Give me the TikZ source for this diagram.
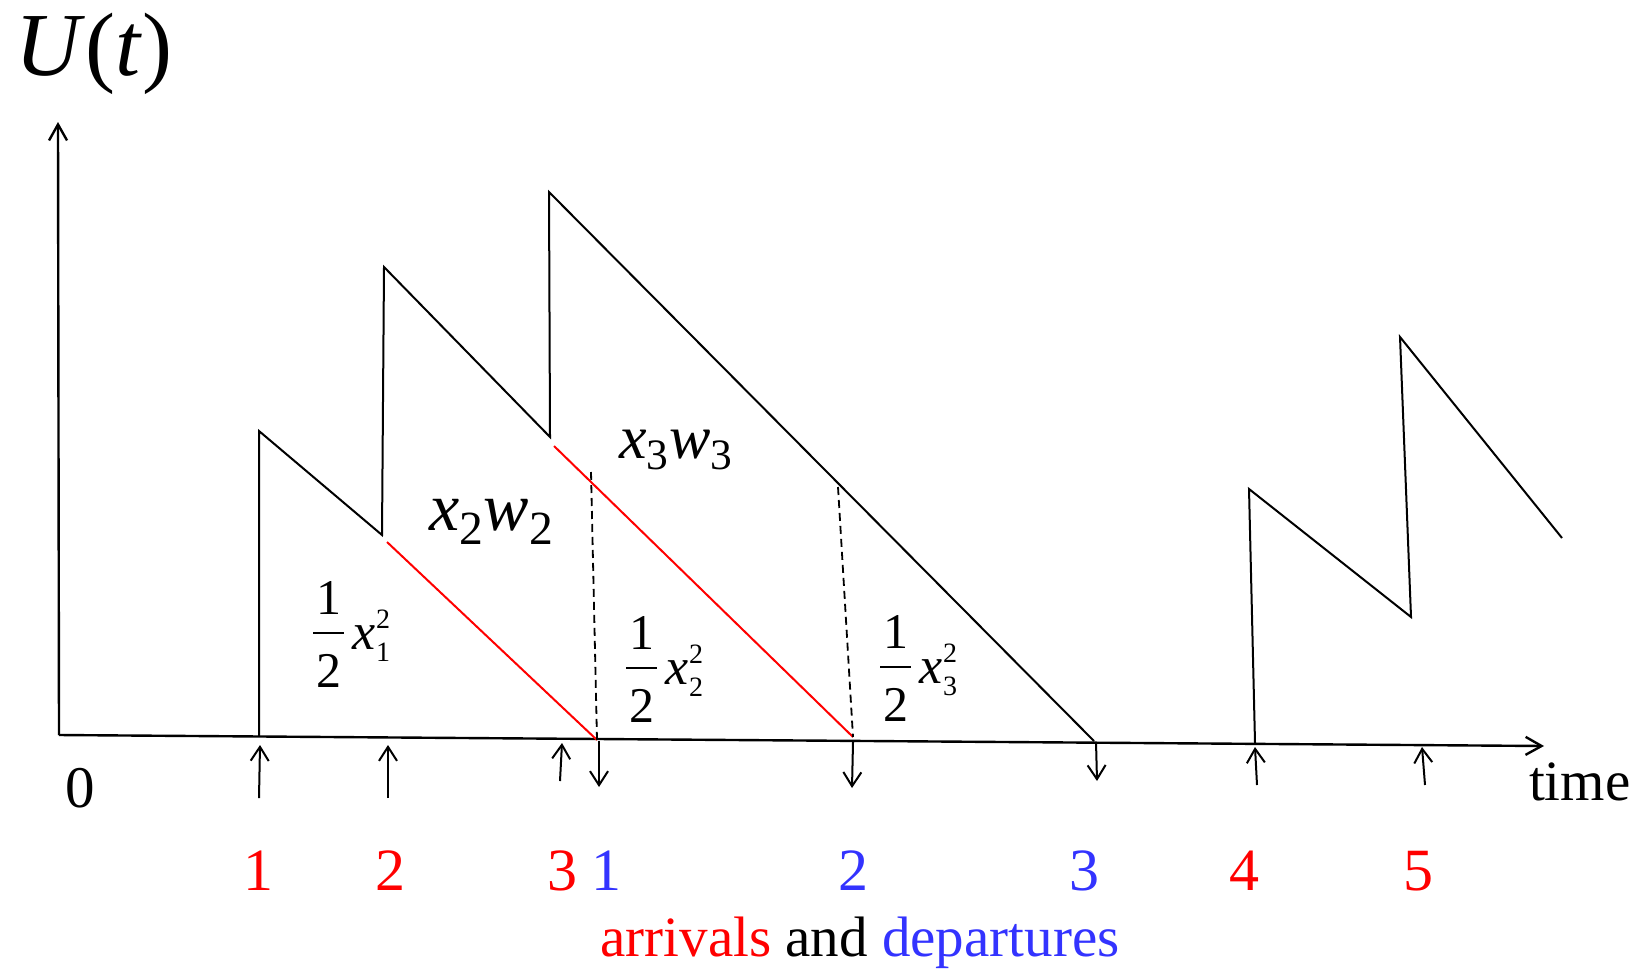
\documentclass[tikz,border=0pt]{standalone}
\usepackage{fontspec}
\setmainfont{Liberation Serif}
\usetikzlibrary{arrows.meta}
\definecolor{arrred}{RGB}{255,0,0}
\definecolor{depblue}{RGB}{51,51,255}
% one half times x_i squared, set by hand
\newcommand{\halfsq}[1]{%
  \raisebox{-19pt}{\vbox{\offinterlineskip\halign{\hfil\kern1.5pt##\kern1.5pt\hfil\cr
    1\cr\noalign{\kern9pt\hrule height 0.8pt\kern10pt}2\cr}}}%
  \kern4pt{\fontsize{26}{26}\selectfont\itshape x}\kern0.5pt
  \rlap{\raisebox{10.5pt}{\fontsize{14}{14}\selectfont 2}}%
  \raisebox{-6pt}{\fontsize{14}{14}\selectfont #1}}

\begin{document}
\begin{tikzpicture}[x=0.5pt, y=-0.5pt, line width=1pt,
  axis/.style={line width=1.2pt, -{Straight Barb[length=8pt,width=9pt]}},
  served/.style={arrred, line width=1pt},
  guide/.style={dash pattern=on 4pt off 2.5pt, line width=0.9pt},
  evt/.style={-{Straight Barb[length=7pt,width=9pt]}},
  num/.style={anchor=base, inner sep=0, font=\fontsize{30}{30}\selectfont},
  lbl/.style={anchor=base west, inner sep=0, font=\fontsize{25}{25}\selectfont}]
\useasboundingbox (0,0) rectangle (1641,969);

% axes
\coordinate (O) at (59,735);
\coordinate (ytop) at (58,122);
\coordinate (xend) at (1544,746);
\draw[axis] (O) -- (ytop);
\draw[axis] (O) -- (xend);

% unfinished work, first busy period
\coordinate (a1) at (259,736);
\coordinate (p1) at (259,431);
\coordinate (v1) at (382,535);
\coordinate (p2) at (384,267);
\coordinate (v2) at (550,437);
\coordinate (p3) at (549,192);
\coordinate (e1) at (1094,741);
\draw (a1) -- (p1) -- (v1) -- (p2) -- (v2) -- (p3) -- (e1);

% second busy period
\coordinate (a4) at (1255,743);
\coordinate (p4) at (1249,489);
\coordinate (v4) at (1411,617);
\coordinate (p5) at (1400,337);
\coordinate (e2) at (1562,538);
\draw (a4) -- (p4) -- (v4) -- (p5) -- (e2);

% service of customers 1 and 2
\coordinate (r1) at (387,542);
\coordinate (d1) at (597,740);
\coordinate (r2) at (554,446);
\coordinate (d2) at (853,737);
\draw[served] (r1) -- (d1);
\draw[served] (r2) -- (d2);
\coordinate (g1) at (591,472);
\coordinate (g2) at (838,487);
\draw[guide] (g1) -- (d1);
\draw[guide] (g2) -- (d2);

% arrivals and departures
\foreach \n/\xa/\ya/\xb/\yb in {1/259/798/260/745, 2/388/798/388/745, 3/560/781/562/743,
    4/1257/785/1255/747, 5/1425/785/1422/747}{
  \coordinate (in\n) at (\xa,\ya);
  \coordinate (in\n t) at (\xb,\yb);
  \draw[evt] (in\n) -- (in\n t);
}
\foreach \n/\xa/\ya/\xb/\yb in {1/599/741/599/787, 2/853/742/852/788, 3/1096/742/1097/781}{
  \coordinate (out\n) at (\xa,\ya);
  \coordinate (out\n t) at (\xb,\yb);
  \draw[evt] (out\n) -- (out\n t);
}
\foreach \x/\t in {258/1, 390/2, 562/3, 1244/4, 1418/5}
  \node[num, arrred] (na\t) at (\x,890) {\t};
\foreach \x/\t in {606/1, 853/2, 1084/3}
  \node[num, depblue] (nd\t) at (\x,890) {\t};

% labels
\node[anchor=base west, inner sep=0, font=\fontsize{45}{45}\selectfont] (ut) at (15,75) {\textit{U}(\textit{t})};
\node[anchor=base, inner sep=0, font=\fontsize{29.5}{30}\selectfont] (zero) at (80,807) {0};
\node[anchor=base west, inner sep=0, font=\fontsize{28.5}{30}\selectfont] (time) at (1528,800) {time};
\node[anchor=base, inner sep=0, font=\fontsize{28.5}{30}\selectfont] (legend) at (860,956)
  {\textcolor{arrred}{arrivals} and \textcolor{depblue}{departures}};
\node[anchor=base west, inner sep=0, font=\fontsize{34}{34}\selectfont] (xw2) at (428,530)
  {\textit{x}\textsubscript{2}\textit{w}\textsubscript{2}};
\node[anchor=base west, inner sep=0, font=\fontsize{31}{31}\selectfont] (xw3) at (618,458)
  {\textit{x}\textsubscript{3}\textit{w}\textsubscript{3}};
\node[lbl] (h1) at (312,649) {\halfsq{1}};
\node[lbl] (h2) at (625,684) {\halfsq{2}};
\node[lbl] (h3) at (879,683) {\halfsq{3}};
\end{tikzpicture}
\end{document}
